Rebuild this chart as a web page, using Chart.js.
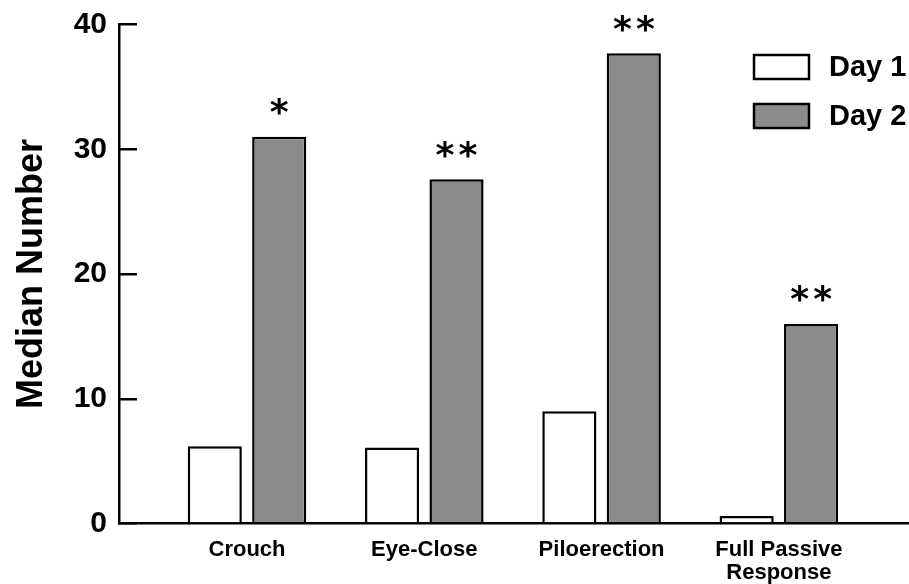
<!DOCTYPE html>
<html>
<head>
<meta charset="utf-8">
<script src="https://cdn.jsdelivr.net/npm/chart.js@4"></script>
<style>
  body { margin: 0; background: #fff; }
  .chart-box { width: 909px; height: 584px; }
</style>
</head>
<body>
<div class="chart-box"><canvas id="myBarChart"></canvas></div>
<script>
const categories = ['Crouch', 'Eye-Close', 'Piloerection', ['Full Passive', 'Response']];
const day1 = [6.2, 6.1, 9.0, 0.6];
const day2 = [31.0, 27.6, 37.7, 16.0];
const significance = ['*', '**', '**', '**'];
const yTicks = [0, 10, 20, 30, 40];
const seriesNames = ['Day 1', 'Day 2'];

const FONT = "'Liberation Sans', Arial, Helvetica, sans-serif";
const grayFill = '#8b8b8b';

// stars above the Day 2 bars
const starsPlugin = {
    id: 'stars',
    afterDatasetsDraw(chart) {
        const ctx = chart.ctx;
        const meta = chart.getDatasetMeta(1);
        ctx.save();
        ctx.fillStyle = '#000';
        ctx.font = "bold 36px 'DejaVu Sans', sans-serif";
        ctx.textAlign = 'center';
        ctx.textBaseline = 'alphabetic';
        const m = ctx.measureText('*');
        const mid = (m.actualBoundingBoxAscent - m.actualBoundingBoxDescent) / 2;
        meta.data.forEach((bar, i) => {
            const stars = significance[i];
            const cy = bar.y - 30;
            const spacing = 23;
            const startX = bar.x - (stars.length - 1) * spacing / 2;
            for (let k = 0; k < stars.length; k++) {
                ctx.fillText('*', startX + k * spacing, cy + mid);
            }
        });
        ctx.restore();
    }
};

// legend box in the upper right, inside the plot
const boxLegendPlugin = {
    id: 'boxLegend',
    afterDraw(chart) {
        const ctx = chart.ctx;
        const area = chart.chartArea;
        ctx.save();
        chart.data.datasets.forEach((ds, i) => {
            const x = area.right - 155;
            const y = 55 + i * 49;
            ctx.fillStyle = ds.backgroundColor;
            ctx.fillRect(x, y, 55, 24);
            ctx.lineWidth = 2.5;
            ctx.strokeStyle = '#000';
            ctx.strokeRect(x, y, 55, 24);
            ctx.fillStyle = '#000';
            ctx.font = 'bold 29px ' + FONT;
            ctx.textAlign = 'left';
            ctx.textBaseline = 'middle';
            ctx.fillText(ds.label, x + 75, y + 13);
        });
        ctx.restore();
    }
};

const ctx = document.getElementById('myBarChart').getContext('2d');
const myBarChart = new Chart(ctx, {
    type: 'bar',
    data: {
        datasets: [{
            label: seriesNames[0],
            data: day1.map((v, i) => ({ x: i, y: v })),
            backgroundColor: '#ffffff',
            borderColor: '#000000',
            borderWidth: 2.5
        }, {
            label: seriesNames[1],
            data: day2.map((v, i) => ({ x: i, y: v })),
            backgroundColor: grayFill,
            borderColor: '#000000',
            borderWidth: 2.5
        }]
    },
    options: {
        responsive: true,
        maintainAspectRatio: false,
        animation: false,
        events: [],
        layout: { padding: { left: 10, top: 24.5, right: 0, bottom: 0 } },
        datasets: {
            bar: { categoryPercentage: 0.727, barPercentage: 0.84 }
        },
        plugins: {
            legend: { display: false },
            tooltip: { enabled: false }
        },
        scales: {
            x: {
                type: 'linear',
                offset: false,
                min: -0.722,
                max: 3.734,
                afterBuildTicks: (axis) => {
                    axis.ticks = categories.map((c, i) => ({ value: i }));
                },
                afterFit: (scale) => {
                    scale.height = 60.4;
                    scale.paddingLeft = 0;
                    scale.paddingRight = 0;
                },
                grid: { display: false, drawTicks: false },
                border: { display: true, color: '#000', width: 2.5 },
                ticks: {
                    color: '#000',
                    padding: 15,
                    maxRotation: 0,
                    font: { family: FONT, size: 22, weight: 'bold', lineHeight: 1.05 },
                    callback: (value) => categories[value]
                }
            },
            y: {
                min: 0,
                max: 40,
                afterBuildTicks: (axis) => {
                    axis.ticks = yTicks.map(v => ({ value: v }));
                },
                afterFit: (scale) => {
                    scale.width = 109;
                    scale.paddingTop = 0;
                    scale.paddingBottom = 0;
                },
                grid: {
                    drawOnChartArea: false,
                    color: '#000',
                    lineWidth: 2.5,
                    tickLength: -18
                },
                border: { display: true, color: '#000', width: 2.5 },
                ticks: {
                    color: '#000',
                    padding: 30,
                    font: { family: FONT, size: 30, weight: 'bold' }
                },
                title: {
                    display: true,
                    text: 'Median Number',
                    color: '#000',
                    padding: 0,
                    font: { family: FONT, size: 36, weight: 'bold' }
                }
            }
        }
    },
    plugins: [starsPlugin, boxLegendPlugin]
});
</script>
</body>
</html>
